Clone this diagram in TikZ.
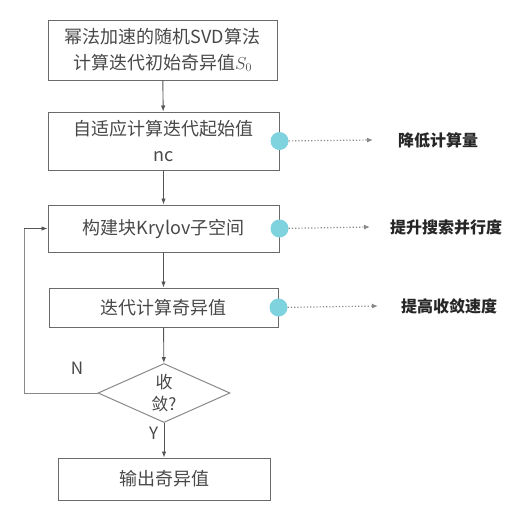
\documentclass[tikz,border=0pt]{standalone}
\usepackage{fontspec}
\setmainfont{Noto Sans CJK SC}
\usetikzlibrary{shapes.geometric,arrows.meta}
\definecolor{linec}{HTML}{555555}
\definecolor{boxc}{HTML}{6A6A6A}
\definecolor{txtc}{HTML}{484848}
\definecolor{dotc}{HTML}{7FD3DE}
\begin{document}
\begin{tikzpicture}[x=1pt,y=-1pt,
  box/.style={draw=boxc,line width=1pt,rectangle,inner sep=0pt,text=txtc,font=\fontsize{18}{26}\selectfont,align=center},
  arr/.style={draw=linec,line width=0.9pt,-{Latex[length=6pt,width=4.5pt]}},
  dot/.style={circle,fill=dotc,minimum size=18pt,inner sep=0pt},
  darr/.style={draw=linec!70,line width=1.2pt,dotted,-{Latex[length=6pt,width=5pt]}},
  lab/.style={font=\fontsize{16}{18}\selectfont\bfseries,text=black!85},
  yn/.style={font=\fontsize{17}{19}\selectfont,text=txtc}]
\useasboundingbox (0,0) rectangle (518,523);
\node[box,minimum width=229pt,minimum height=60pt] (b1) at (162.5,50) {幂法加速的随机SVD算法\\计算迭代初始奇异值$S_0$};
\node[box,minimum width=231pt,minimum height=58pt] (b2) at (163.5,141) {自适应计算迭代起始值\\nc};
\node[box,minimum width=231pt,minimum height=47pt] (b3) at (163.5,228.5) {构建块Krylov子空间};
\node[box,minimum width=229pt,minimum height=39pt] (b4) at (163.5,307.5) {迭代计算奇异值};
\node[draw=boxc!80,line width=1pt,diamond,aspect=2.24,minimum width=132pt,minimum height=59pt,inner sep=0pt,text=txtc,align=center,font=\fontsize{17}{22}\selectfont] (d) at (164,393) {收\\敛?};
\node[box,minimum width=212pt,minimum height=42pt] (b5) at (164,479) {输出奇异值};
\draw[arr] (b1) -- (b2);
\draw[arr] (b2) -- (b3);
\draw[arr] (b3) -- (b4);
\draw[arr] (b4) -- (d);
\draw[arr] (d) -- (b5) node[yn,pos=0.3,left=2pt] {Y};
\coordinate (c1) at (24,393);
\coordinate (c2) at (24,228.5);
\draw[draw=boxc!80,line width=1pt] (d.west) -- (c1) -- (c2);
\draw[arr] (c2) -- (b3.west);
\node[yn] (n) at (77,368) {N};
\node[dot] (p2) at (b2.east) {};
\node[dot] (p3) at (b3.east) {};
\node[dot] (p4) at (b4.east) {};
\node[lab] (l2) at (438,140) {降低计算量};
\node[lab] (l3) at (446,227) {提升搜索并行度};
\node[lab] (l4) at (449,306) {提高收敛速度};
\draw[darr] (p2) -- (373,140) coordinate (e2);
\draw[darr] (p3) -- (370,227) coordinate (e3);
\draw[darr] (p4) -- (378,306) coordinate (e4);
\end{tikzpicture}
\end{document}
